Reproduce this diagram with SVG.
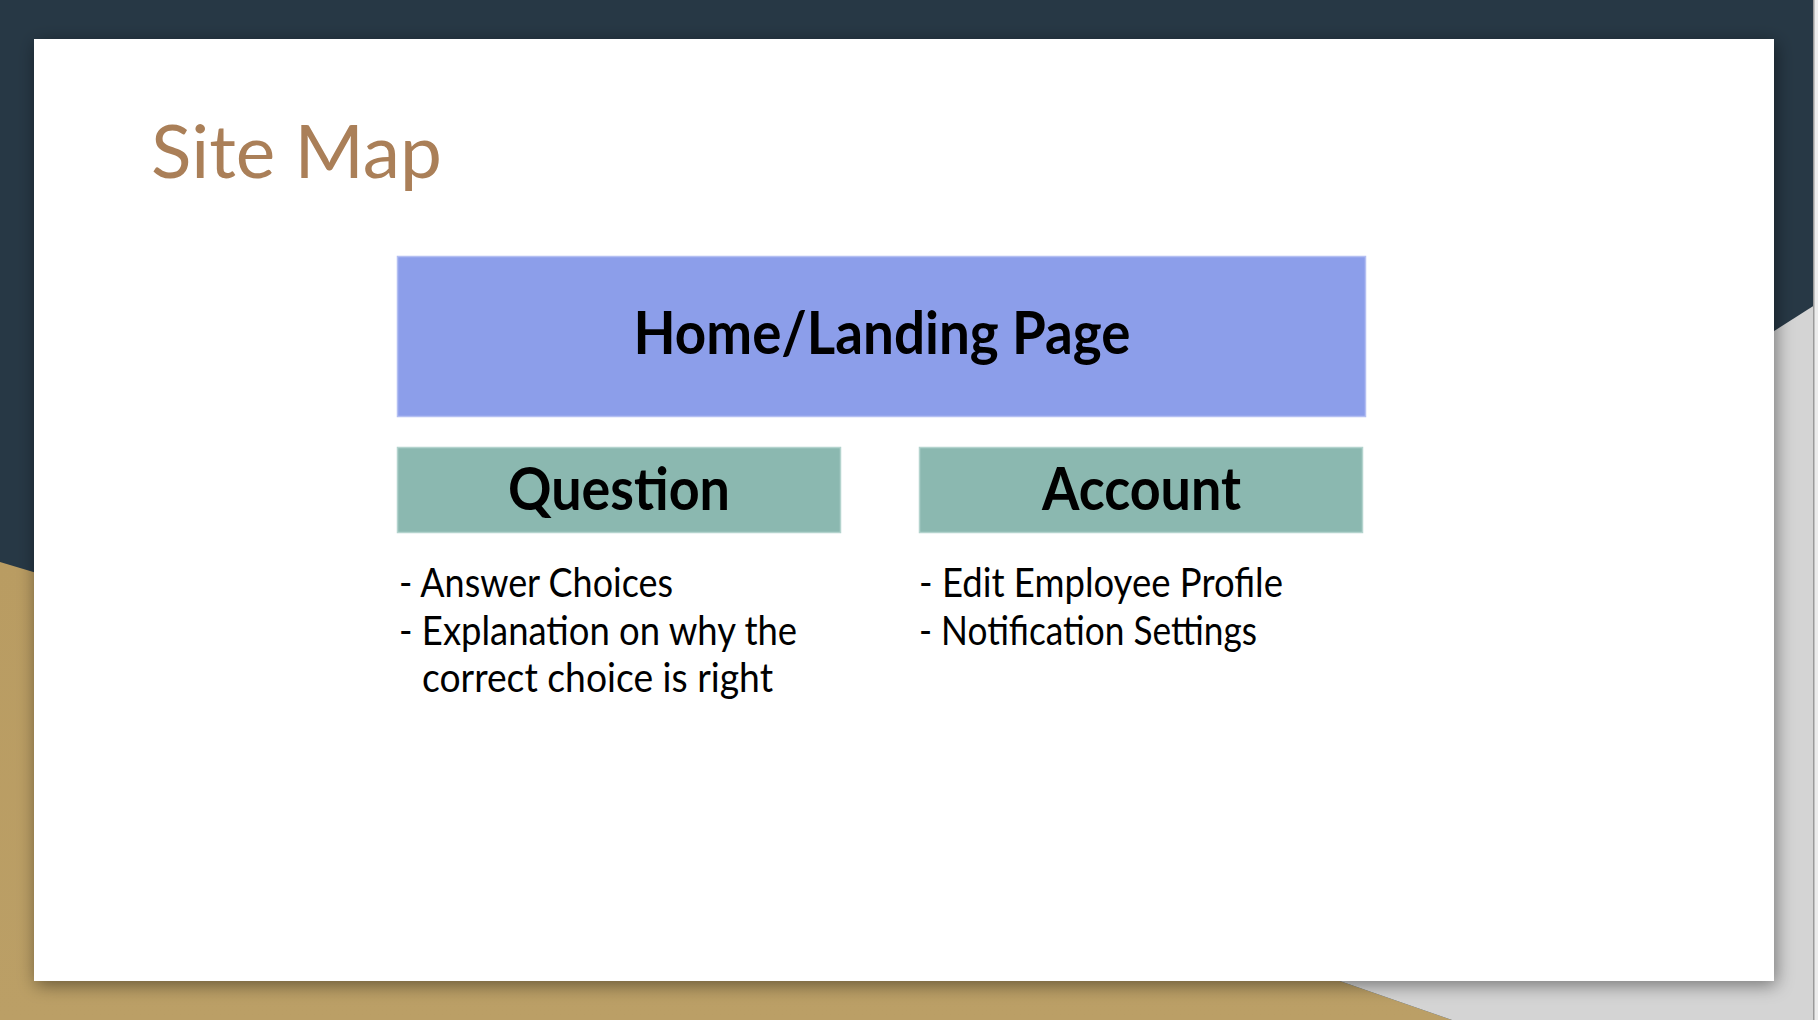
<svg xmlns="http://www.w3.org/2000/svg" width="1818" height="1020" viewBox="0 0 1818 1020">
  <defs>
    <filter id="shadow" x="-5%" y="-5%" width="110%" height="112%">
      <feDropShadow dx="2" dy="4" stdDeviation="9" flood-color="#000" flood-opacity="0.45"/>
    </filter>
    <linearGradient id="tanGrad" x1="0" y1="0" x2="0" y2="1">
      <stop offset="0" stop-color="#b99c62"/>
      <stop offset="1" stop-color="#bb9f66"/>
    </linearGradient>
  </defs>
  <style>
    .title { font-family: Lato, "Noto Sans", "Liberation Sans", sans-serif; font-size: 74px; fill: #aa7f58; }
    .label { font-family: Lato, "Open Sans", "Liberation Sans", sans-serif; font-weight: bold; font-size: 59px; fill: #000; text-anchor: middle; }
    .bullet { font-family: Lato, "Open Sans", "Liberation Sans", sans-serif; font-size: 40px; fill: #000; }
    .home { fill: #8c9eea; stroke: #b4bff2; stroke-width: 1.5; }
    .sub { fill: #8bb8b0; stroke: #b3d3cd; stroke-width: 1.5; }
  </style>

  <!-- background -->
  <rect x="0" y="0" width="1818" height="1020" fill="#273845"/>
  <polygon points="0,562 962,850 1452,1020 0,1020" fill="url(#tanGrad)"/>
  <polygon points="962,850 1818,303 1818,1020 1452,1020" fill="#d4d4d4"/>
  <rect x="1814" y="0" width="4" height="1020" fill="#ececec"/>
  <rect x="1813" y="0" width="1.5" height="1020" fill="#9a9a9a"/>

  <!-- slide card -->
  <rect x="34" y="39" width="1740" height="942" fill="#ffffff" filter="url(#shadow)"/>
  <rect x="34" y="39" width="1740" height="942" fill="#ffffff"/>

  <text class="title" x="151" y="178" textLength="291" lengthAdjust="spacingAndGlyphs">Site Map</text>

  <g id="connectors"></g>

  <g id="home">
    <rect class="home" x="397.5" y="256.5" width="968" height="160"/>
    <text class="label" x="882" y="354" textLength="497" lengthAdjust="spacingAndGlyphs">Home/Landing Page</text>
  </g>

  <g id="question">
    <rect class="sub" x="397.5" y="447.5" width="443" height="85"/>
    <text class="label" x="619" y="510" textLength="222" lengthAdjust="spacingAndGlyphs">Question</text>
    <text class="bullet" x="399" y="597" textLength="274" lengthAdjust="spacingAndGlyphs">- Answer Choices</text>
    <text class="bullet" x="399" y="645" textLength="398" lengthAdjust="spacingAndGlyphs">- Explanation on why the</text>
    <text class="bullet" x="422" y="692" textLength="351" lengthAdjust="spacingAndGlyphs">correct choice is right</text>
  </g>

  <g id="account">
    <rect class="sub" x="919.5" y="447.5" width="443" height="85"/>
    <text class="label" x="1141.5" y="510" textLength="199" lengthAdjust="spacingAndGlyphs">Account</text>
    <text class="bullet" x="919" y="597" textLength="364" lengthAdjust="spacingAndGlyphs">- Edit Employee Profile</text>
    <text class="bullet" x="919" y="645" textLength="338" lengthAdjust="spacingAndGlyphs">- Notification Settings</text>
  </g>
</svg>
